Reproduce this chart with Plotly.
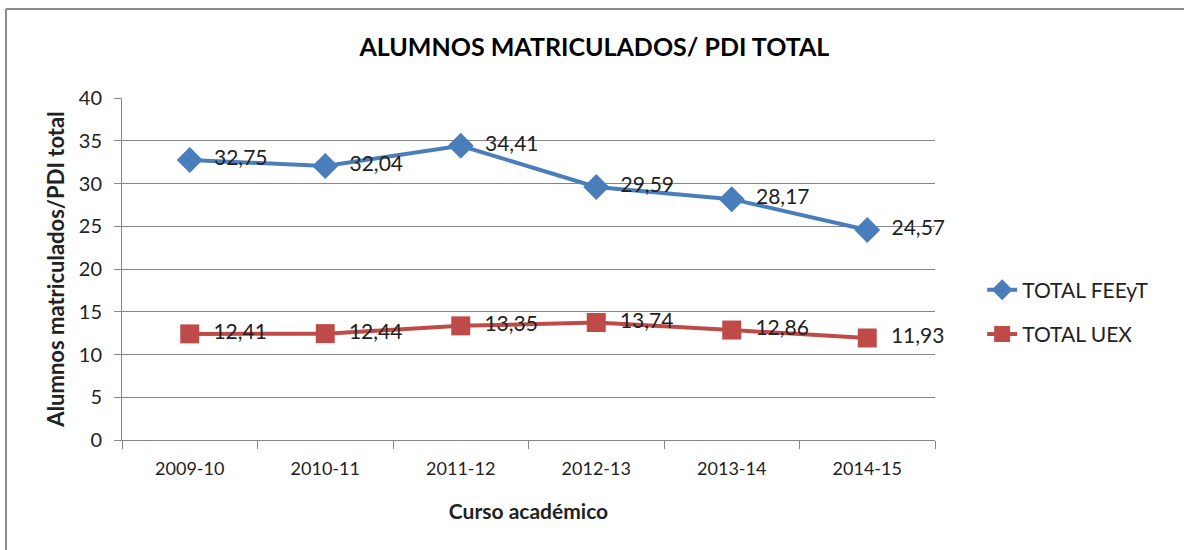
import plotly.graph_objects as go

categories = ["2009-10", "2010-11", "2011-12", "2012-13", "2013-14", "2014-15"]
feeyt = [32.75, 32.04, 34.41, 29.59, 28.17, 24.57]
uex = [12.41, 12.44, 13.35, 13.74, 12.86, 11.93]
y_ticks = [0, 5, 10, 15, 20, 25, 30, 35, 40]

def fmt(v):
    return "\u00a0\u00a0" + f"{v:.2f}".replace(".", ",")

FONT = "Lato, 'Open Sans', sans-serif"

fig = go.Figure()
fig.add_trace(go.Scatter(
    x=categories, y=feeyt, name="TOTAL FEEyT", mode="lines+markers+text",
    legendgroup="a",
    line=dict(color="#4A7EBB", width=4),
    marker=dict(symbol="diamond", size=20, color="#4A7EBB"),
    text=[fmt(v) for v in feeyt], textposition="middle right",
    textfont=dict(size=21, color="#222222", family=FONT),
    cliponaxis=False,
))
fig.add_trace(go.Scatter(
    x=categories, y=uex, name="TOTAL UEX", mode="lines+markers+text",
    legendgroup="b",
    line=dict(color="#BE4B48", width=4),
    marker=dict(symbol="square", size=19, color="#BE4B48"),
    text=[fmt(v) for v in uex], textposition="middle right",
    textfont=dict(size=21, color="#222222", family=FONT),
    cliponaxis=False,
))

fig.update_layout(
    width=1184, height=550,
    margin=dict(l=122, r=249, t=98, b=110),
    paper_bgcolor="white", plot_bgcolor="white",
    font=dict(family=FONT, size=18, color="#222222"),
    title=dict(text="<b>ALUMNOS MATRICULADOS/ PDI TOTAL</b>", x=0.502, xanchor="center",
               xref="container", y=1 - 47 / 550, yanchor="middle",
               font=dict(size=25, color="#000000", family=FONT)),
    xaxis=dict(
        type="category", categoryorder="array", categoryarray=categories,
        showgrid=False, showline=True, linecolor="#868686", linewidth=1,
        ticks="outside", tickson="boundaries", ticklen=8, tickcolor="#868686",
        tickfont=dict(size=18), range=[-0.5, 5.5], ticklabelstandoff=12,
        title=dict(text="<b>Curso académico</b>", font=dict(size=21), standoff=26),
    ),
    yaxis=dict(
        range=[0, 40], tickvals=y_ticks, showgrid=True, gridcolor="#868686", gridwidth=1,
        showline=True, linecolor="#868686", linewidth=1, ticks="outside", ticklen=7,
        tickcolor="#868686", tickfont=dict(size=20), zeroline=False, ticklabelstandoff=8,
        title=dict(text="<b>Alumnos matriculados/PDI total</b>", font=dict(size=22), standoff=8),
    ),
    legend=dict(x=1.058, xanchor="left", y=0.374, yanchor="middle",
                font=dict(size=21), traceorder="grouped", tracegroupgap=14,
                bgcolor="rgba(0,0,0,0)"),
    shapes=[
        dict(type="line", xref="paper", yref="paper", x0=-0.1427, x1=-0.1427, y0=-1, y1=1.2602,
             line=dict(color="#8A8A8A", width=2)),
        dict(type="line", xref="paper", yref="paper", x0=-0.1427, x1=1.5, y0=1.2602, y1=1.2602,
             line=dict(color="#8A8A8A", width=2)),
    ],
)

fig.write_html("out.html", config={"displayModeBar": False},
               post_script="document.body.style.margin='0';document.body.style.overflow='hidden';")
